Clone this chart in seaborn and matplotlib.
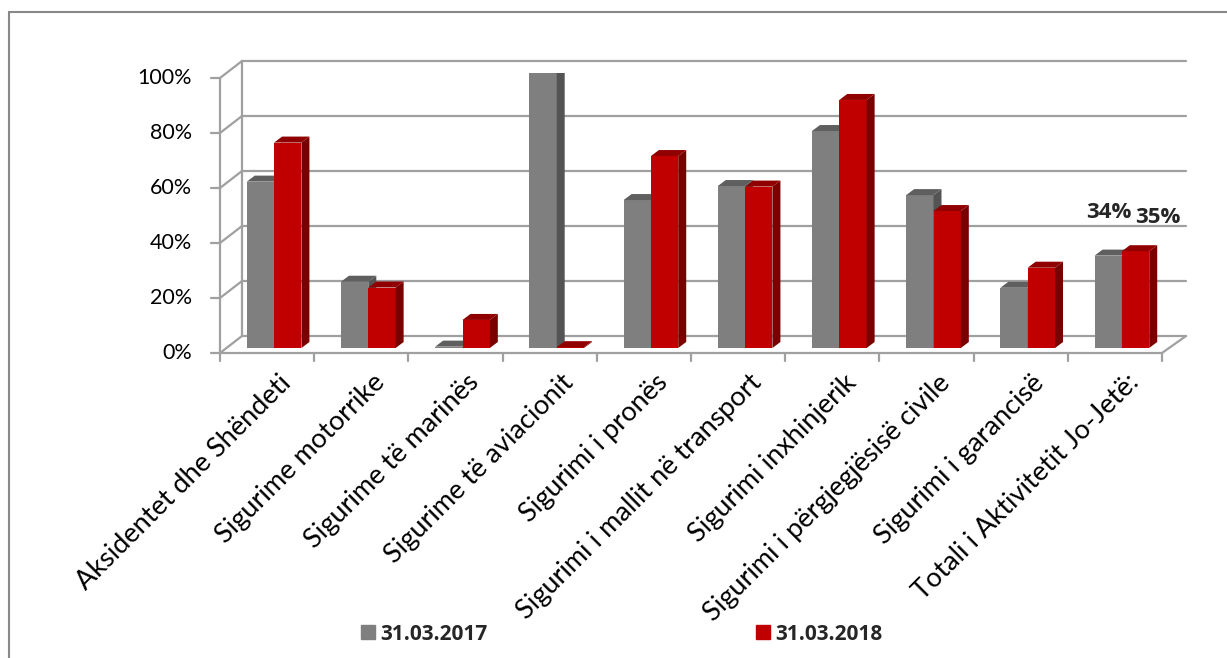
import numpy as np
import pandas as pd
import matplotlib
matplotlib.use("Agg")
import matplotlib.pyplot as plt
from matplotlib.patches import Polygon, Rectangle
from matplotlib.lines import Line2D
import seaborn as sns

# Të dhënat
kategorite = ["Aksidentet dhe Shëndeti", "Sigurime motorrike", "Sigurime të marinës",
              "Sigurime të aviacionit", "Sigurimi i pronës", "Sigurimi i mallit në transport",
              "Sigurimi inxhinjerik", "Sigurimi i përgjegjësisë civile", "Sigurimi i garancisë",
              "Totali i Aktivitetit Jo-Jetë:"]
vlera_2017 = [0.605, 0.241, 0.005, 1.00, 0.538, 0.589, 0.789, 0.556, 0.219, 0.336]
vlera_2018 = [0.747, 0.220, 0.102, 0.003, 0.698, 0.587, 0.902, 0.498, 0.292, 0.352]
seria = ["31.03.2017", "31.03.2018"]
ngjyrat = {"31.03.2017": "#7F7F7F", "31.03.2018": "#C00000"}
ngjyrat_anash = {"31.03.2017": "#545454", "31.03.2018": "#7A0000"}
ngjyrat_siper = {"31.03.2017": "#5F5F5F", "31.03.2018": "#900000"}
yticks = [0, 0.2, 0.4, 0.6, 0.8, 1.0]
ytick_labels = ["0%", "20%", "40%", "60%", "80%", "100%"]

df = pd.DataFrame({
    "kategoria": kategorite * 2,
    "vlera": vlera_2017 + vlera_2018,
    "data": [seria[0]] * len(kategorite) + [seria[1]] * len(kategorite),
})

sns.set_style("white")
plt.rcParams["font.family"] = ["Lato", "DejaVu Sans"]
bold_font = ["Open Sans", "DejaVu Sans"]

W, H = 1227, 658
fig = plt.figure(figsize=(W / 100, H / 100), dpi=100)
# zona e grafikut ne piksela: x 220..1162, y 348 (0%) .. 73 (100%)
px_cat = 94.2
ax = fig.add_axes([220 / W, (H - 348) / H, 942 / W, 275 / H])

sns.barplot(data=df, x="kategoria", y="vlera", hue="data", palette=ngjyrat,
            order=kategorite, hue_order=seria, width=0.58, saturation=1,
            edgecolor="none", ax=ax, legend=False)
ax.set_xlim(-0.5, len(kategorite) - 0.5)
ax.set_ylim(0, 1)
ax.axis("off")

sx = 1 / px_cat   # data per pixel ne x
sy = 1 / 275      # data per pixel ne y
gc = "#A0A0A0"

# efekti 3D: zhvendosje, ane dhe kapak
dx_shift = 7 * sx
d_x, d_y = 8 * sx, 6 * sy
bars = [p for p in ax.patches if isinstance(p, Rectangle)]
n = len(kategorite)
for i, p in enumerate(bars[:2 * n]):
    key = seria[i // n]
    z = 2 + i // n
    p.set_zorder(z)
    p.set_x(p.get_x() + dx_shift)
    x0, y0 = p.get_x(), p.get_y()
    x1, y1 = x0 + p.get_width(), y0 + p.get_height()
    ax.add_patch(Polygon([[x1, y0], [x1 + d_x, y0 + d_y], [x1 + d_x, y1 + d_y], [x1, y1]],
                         closed=True, color=ngjyrat_anash[key], lw=0, zorder=z))
    ax.add_patch(Polygon([[x0, y1], [x0 + d_x, y1 + d_y], [x1 + d_x, y1 + d_y], [x1, y1]],
                         closed=True, color=ngjyrat_siper[key], lw=0, zorder=z))

# muri i pasem dhe boshtet
front_off = -5 * sy
back_off = 12 * sy
xl = -0.5
xb = xl + 22 * sx
xr = len(kategorite) - 0.5
xrb = xl + 966 * sx
for v, lab in zip(yticks, ytick_labels):
    ax.plot([xb, xrb], [v + back_off, v + back_off], color=gc, lw=1.6, clip_on=False, zorder=1)
    ax.plot([xl, xb], [v + front_off, v + back_off], color=gc, lw=1.6, clip_on=False, zorder=1)
    ax.plot([xl - 9 * sx, xl], [v + front_off, v + front_off], color=gc, lw=1.6, clip_on=False, zorder=1)
    ax.text(xl - 28 * sx, v + front_off, lab, ha="right", va="center",
            fontsize=15.5, color="black")
ax.plot([xl, xl], [front_off, 1 + front_off], color=gc, lw=1.6, clip_on=False, zorder=1)
ax.plot([xb, xb], [back_off, 1 + back_off], color=gc, lw=1.6, clip_on=False, zorder=1)
ax.plot([xl, xr], [front_off, front_off], color=gc, lw=1.6, clip_on=False, zorder=4)
ax.plot([xr, xrb], [front_off, back_off], color=gc, lw=1.6, clip_on=False, zorder=4)
for k in range(len(kategorite) + 1):
    ax.plot([xl + k, xl + k], [front_off, front_off - 8 * sy], color=gc, lw=1.6, clip_on=False, zorder=4)

# etiketat e kategorive
for k, lab in enumerate(kategorite):
    ax.text(k + 11 * sx, -22 * sy, lab, rotation=45, rotation_mode="anchor",
            ha="right", va="top", fontsize=19.5, color="black")

# etiketat e vlerave per totalin
kt = len(kategorite) - 1
b17, b18 = bars[kt], bars[n + kt]
ax.text(b17.get_x() + b17.get_width() / 2 + 1 * sx, b17.get_height() + 43 * sy,
        f"{round(vlera_2017[kt] * 100):.0f}%", ha="center", va="center",
        fontsize=16, fontweight="bold", family=bold_font)
ax.text(b18.get_x() + b18.get_width() / 2 + 22 * sx, b18.get_height() + 34 * sy,
        f"{round(vlera_2018[kt] * 100):.0f}%", ha="center", va="center",
        fontsize=16, fontweight="bold", family=bold_font)

# legjenda
handles = [Line2D([], [], marker="s", ls="none", markersize=10, color=ngjyrat[s]) for s in seria]
leg = fig.legend(handles, seria, loc="center", bbox_to_anchor=(621 / W, 1 - 634 / H),
                 ncol=2, frameon=False, columnspacing=12.8, handletextpad=0.2,
                 handlelength=0.8, prop={"size": 15, "weight": "bold", "family": bold_font})

# korniza
fig.add_artist(Rectangle((9 / W, -0.01), 1.02, 1 - 12 / H + 0.01, transform=fig.transFigure,
                         fill=False, edgecolor="#888888", lw=1.5))

fig.savefig("out.png", dpi=100)
